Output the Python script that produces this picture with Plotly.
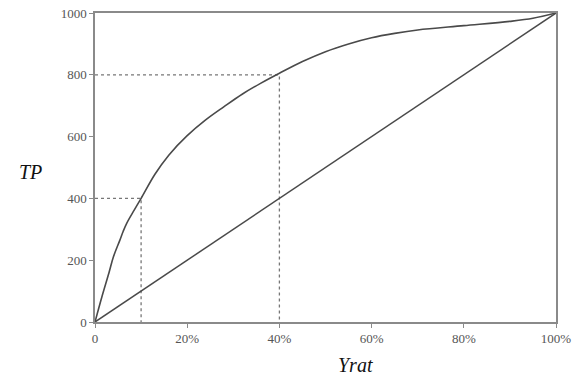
import plotly.graph_objects as go

# data (x in percent, y in TP)
curve_x = [0, 1.5, 3, 4, 5.4, 6.1, 6.9, 8.5, 10, 13, 16, 20, 24, 28, 32, 36, 40,
           45, 50, 55, 60, 65, 70, 80, 90, 95, 100]
curve_y = [0, 82, 158, 211, 265, 293, 320, 362, 400, 478, 540, 603, 654, 697, 738, 773, 805,
           843, 875, 900, 920, 934, 945, 959, 973, 983, 1000]
diag_x = [0, 100]
diag_y = [0, 1000]
guide1_x = [0, 10, 10]
guide1_y = [400, 400, 0]
guide2_x = [0, 40, 40]
guide2_y = [800, 800, 0]
x_ticks = [0, 20, 40, 60, 80, 100]
x_labels = ["0", "20%", "40%", "60%", "80%", "100%"]
y_ticks = [0, 200, 400, 600, 800, 1000]
y_labels = ["0", "200", "400", "600", "800", "1000"]

fig = go.Figure()
for gx, gy in [(guide1_x, guide1_y), (guide2_x, guide2_y)]:
    fig.add_trace(go.Scatter(x=gx, y=gy, mode="lines",
                             line=dict(color="#777", width=1.3, dash="dot"),
                             hoverinfo="skip"))
fig.add_trace(go.Scatter(x=diag_x, y=diag_y, mode="lines",
                         line=dict(color="#4a4a4a", width=1.5)))
fig.add_trace(go.Scatter(x=curve_x, y=curve_y, mode="lines",
                         line=dict(color="#4a4a4a", width=1.6, shape="spline", smoothing=1.0)))

axis_common = dict(showgrid=False, zeroline=False, showline=True, linecolor="#8a8a8a",
                   linewidth=1.5, mirror=True, ticks="outside", ticklen=4,
                   tickcolor="#8a8a8a", tickwidth=1,
                   tickfont=dict(family="Liberation Serif", size=13, color="#555"))
fig.update_xaxes(range=[0, 100], tickvals=x_ticks, ticktext=x_labels, **axis_common)
fig.update_yaxes(range=[0, 1000], tickvals=y_ticks, ticktext=y_labels, **axis_common)

fig.add_annotation(text="<i>TP</i>", xref="paper", yref="paper", x=-0.14, y=(322-172)/309,
                   showarrow=False, xanchor="center", yanchor="middle",
                   font=dict(family="Liberation Serif", size=20, color="#111"))
fig.add_annotation(text="<i>Yrat</i>", xref="paper", yref="paper", x=(355-95)/461, y=-(365-322)/309,
                   showarrow=False, xanchor="center", yanchor="middle",
                   font=dict(family="Liberation Serif", size=20, color="#111"))

fig.update_layout(width=580, height=379, showlegend=False,
                  margin=dict(l=95, r=24, t=13, b=57, autoexpand=False),
                  plot_bgcolor="white", paper_bgcolor="white")
fig.write_html("out.html", config={"displayModeBar": False},
               post_script="document.body.style.margin='0';document.body.style.overflow='hidden';")
